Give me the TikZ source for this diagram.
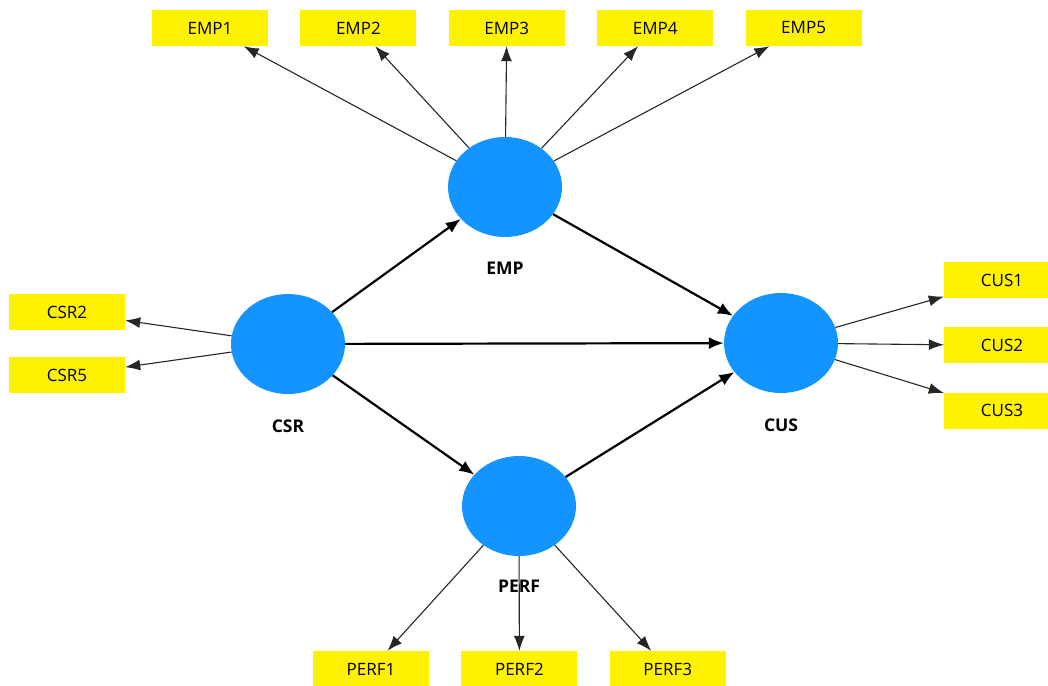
\documentclass[tikz,border=0pt]{standalone}
\usepackage{fontspec}
\setmainfont{Open Sans}
\usetikzlibrary{shapes,arrows.meta,positioning}

\begin{document}
\begin{tikzpicture}[x=1pt, y=-1pt, node distance=32pt, auto]

    % Define block styles
    \definecolor{latentblue}{RGB}{20,148,255}
    \tikzstyle{latent} = [ellipse, fill=latentblue, minimum width=114pt, minimum height=100pt, inner sep=0pt]
    \tikzstyle{indicator} = [rectangle, fill=yellow, minimum width=116pt, minimum height=36pt, inner sep=0pt, font=\fontsize{17}{20}\selectfont]
    \tikzstyle{constlabel} = [inner sep=0pt, font=\bfseries\fontsize{17.5}{20}\selectfont]
    \tikzstyle{loading} = [draw=black!85, line width=1.1pt, -{Latex[length=15pt,width=11pt]}]
    \tikzstyle{effect} = [draw=black, line width=2.2pt, -{Latex[length=15pt,width=12pt]}]

    \useasboundingbox (0,0) rectangle (1048,685);

    % Latent variables
    \node [latent] (csr) at (288,344) {};
    \node [latent] (emp) at (505,187) {};
    \node [latent] (cus) at (781,343) {};
    \node [latent] (perf) at (519,506) {};

    % Indicators
    \node [indicator] (emp1) at (210,28) {EMP1};
    \node [indicator, right=of emp1] (emp2) {EMP2};
    \node [indicator, right=of emp2] (emp3) {EMP3};
    \node [indicator, right=of emp3] (emp4) {EMP4};
    \node [indicator, right=of emp4] (emp5) {EMP5};

    \node [indicator] (csr2) at (67,312) {CSR2};
    \node [indicator, below=27pt of csr2] (csr5) {CSR5};

    \node [indicator] (cus1) at (1002,280) {CUS1};
    \node [indicator, below=29pt of cus1] (cus2) {CUS2};
    \node [indicator, below=29pt of cus2] (cus3) {CUS3};

    \node [indicator] (perf1) at (371,669) {PERF1};
    \node [indicator, right=of perf1] (perf2) {PERF2};
    \node [indicator, right=of perf2] (perf3) {PERF3};

    % Arrows
    \path [loading] (emp) -- (emp1);
    \path [loading] (emp) -- (emp2);
    \path [loading] (emp) -- (emp3);
    \path [loading] (emp) -- (emp4);
    \path [loading] (emp) -- (emp5);
    \path [loading] (csr) -- (csr2);
    \path [loading] (csr) -- (csr5);
    \path [loading] (cus) -- (cus1);
    \path [loading] (cus) -- (cus2);
    \path [loading] (cus) -- (cus3);
    \path [loading] (perf) -- (perf1);
    \path [loading] (perf) -- (perf2);
    \path [loading] (perf) -- (perf3);

    \path [effect] (csr) -- (emp);
    \path [effect] (csr) -- (cus);
    \path [effect] (csr) -- (perf);
    \path [effect] (emp) -- (cus);
    \path [effect] (perf) -- (cus);

    % Labels
    \node [constlabel, below=25pt of emp] (emp_lbl) {EMP};
    \node [constlabel, below=25pt of csr] (csr_lbl) {CSR};
    \node [constlabel, below=25pt of cus] (cus_lbl) {CUS};
    \node [constlabel, below=24pt of perf] (perf_lbl) {PERF};

\end{tikzpicture}
\end{document}
